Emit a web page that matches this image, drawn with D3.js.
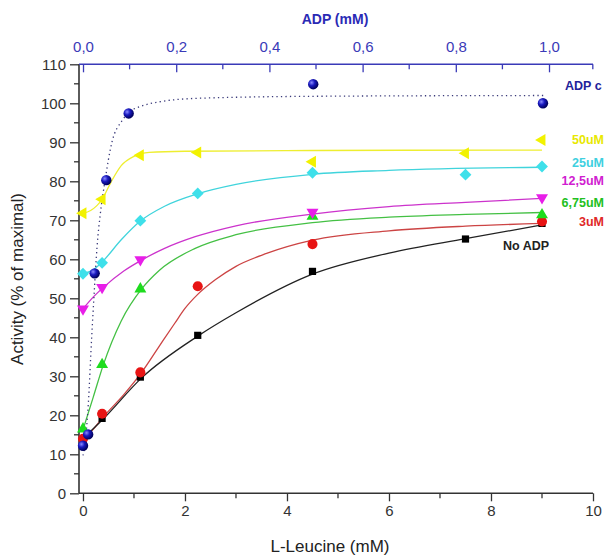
<!DOCTYPE html>
<html><head><meta charset="utf-8">
<script src="https://cdn.jsdelivr.net/npm/d3@7"></script>
<style>body{margin:0;background:#fff}svg{display:block}text{font-family:"Liberation Sans",Arial,sans-serif}</style>
</head><body><svg id="c" width="604" height="559"></svg>
<script>
// ---- data ----
const leucine = [0, 0.375, 1.125, 2.25, 4.5, 7.5, 9];
const noADP   = [13.6, 19.2, 29.8, 40.5, 56.9, 65.2, 69.2];
const adp3    = [14.0, 20.4, 31.0, 53.1, 63.9, null, 69.7];
const adp675  = [16.5, 33.0, 52.4, null, 71.0, null, 71.4];
const adp125  = [47.3, 52.8, 59.9, null, 72.1, null, 75.8];
const adp25   = [56.3, 59.1, 69.9, 76.9, 82.2, 81.7, 83.8];
const adp50   = [71.8, 75.4, 86.7, 87.4, 85.0, 87.2, 90.6];
const adpConc = [0, 0.011, 0.025, 0.05, 0.098, 0.494, 0.987];
const adpAct  = [12.2, 15.1, 56.4, 80.3, 97.4, 104.9, 100.0];
// fitted curves [x, y]
const fitNoADP = [[0,14],[0.4,19.1],[1.15,29.6],[2.25,40.3],[3,46.3],[4.5,56.2],[6,61.6],[7.5,65.3],[9,68.8]];
const fit3     = [[0,13.8],[0.2,16.4],[0.4,19.6],[0.8,25.3],[1.15,31],[1.5,37.8],[1.8,43.6],[2.0,47.4],[2.25,51],[2.6,54.8],[3,58.2],[3.6,61.5],[4.5,64.9],[6,67.3],[7.5,68.5],[9,69.2]];
const fit675   = [[0,16.3],[0.2,24.6],[0.4,33],[0.75,44.2],[1.15,52.4],[1.5,57.2],[2.2,62.8],[3,66.3],[4.5,69.4],[6,70.8],[7.5,71.5],[9,72]];
const fit125   = [[0,47.3],[0.2,50.3],[0.4,52.8],[0.8,57],[1.15,59.8],[1.6,62.8],[2.2,65.8],[3,68.6],[4.5,71.6],[6,73.5],[7.5,74.6],[9,75.6]];
const fit25    = [[0,56.3],[0.2,57.3],[0.375,59.3],[0.75,65],[1.125,69.8],[1.6,73.6],[2.25,76.8],[3,79.2],[4.5,81.8],[6,82.8],[9,83.6]];
const fit50    = [[0,71.8],[0.15,72.5],[0.375,75.4],[0.55,79.8],[0.75,84],[1.0,86.4],[1.3,87.4],[2,87.7],[4.5,87.9],[9,88]];
const fitADP   = [[0,9.7],[0.005,13.5],[0.0114,23],[0.0186,40],[0.0243,52],[0.03,63],[0.037,71.5],[0.047,80],[0.062,90],[0.083,95.4],[0.1,97.8],[0.126,99.3],[0.16,100.3],[0.25,101.3],[0.5,101.8],[0.99,102]];
const bottomTicks = [0, 2, 4, 6, 8, 10];
const topTicks = [0, 0.2, 0.4, 0.6, 0.8, 1.0];
const leftTicks = [0, 10, 20, 30, 40, 50, 60, 70, 80, 90, 100, 110];

const svg = d3.select("#c");
const x = d3.scaleLinear().domain([-0.078, 10]).range([79, 593]);
const xt = d3.scaleLinear().domain([-0.0086, 1.0944]).range([79, 593]);
const y = d3.scaleLinear().domain([0, 110]).range([493.3, 64.3]);

const defs = svg.append("defs");
const g = defs.append("radialGradient").attr("id","sph").attr("cx","35%").attr("cy","35%").attr("r","65%");
g.append("stop").attr("offset","0%").attr("stop-color","#8a8aff");
g.append("stop").attr("offset","45%").attr("stop-color","#1a1ac0");
g.append("stop").attr("offset","100%").attr("stop-color","#00005a");

// axes
const axisCol = "#333";
const bAxis = d3.axisBottom(x).tickValues(bottomTicks).tickFormat(d3.format("d")).tickSize(8).tickPadding(4);
const bg = svg.append("g").attr("transform","translate(0,493.3)").call(bAxis);
bg.select(".domain").attr("d","M79,0H593").attr("stroke",axisCol).attr("stroke-width",1.6);
bg.selectAll(".tick line").attr("stroke",axisCol).attr("stroke-width",1.3);
bg.selectAll("text").attr("fill","#333").attr("font-size",15);
bg.selectAll(".minor").data([1,3,5,7,9]).enter().append("line").attr("class","minor")
  .attr("x1",d=>x(d)).attr("x2",d=>x(d)).attr("y1",0).attr("y2",5).attr("stroke",axisCol).attr("stroke-width",1.3);

const lAxis = d3.axisLeft(y).tickValues(leftTicks).tickFormat(d3.format("d")).tickSize(9).tickPadding(4);
const lg = svg.append("g").attr("transform","translate(79,0)").call(lAxis);
lg.select(".domain").attr("d","M0,493.3V64.3").attr("stroke",axisCol).attr("stroke-width",1.6);
lg.selectAll(".tick line").attr("stroke",axisCol).attr("stroke-width",1.3);
lg.selectAll("text").attr("fill","#333").attr("font-size",15);
lg.selectAll(".minor").data(d3.range(5,110,10)).enter().append("line").attr("class","minor")
  .attr("x1",0).attr("x2",-5).attr("y1",d=>y(d)).attr("y2",d=>y(d)).attr("stroke",axisCol).attr("stroke-width",1.3);

const topCol = "#3a3ab8";
const tAxis = d3.axisTop(xt).tickValues(topTicks).tickFormat(d=>d3.format(".1f")(d).replace(".",",")).tickSize(-8).tickPadding(12);
const tg = svg.append("g").attr("transform","translate(0,64.3)").call(tAxis);
tg.select(".domain").attr("d","M79,0H593").attr("stroke",topCol).attr("stroke-width",1.6);
tg.selectAll(".tick line").attr("stroke",topCol).attr("stroke-width",1.3);
tg.selectAll("text").attr("fill",topCol).attr("font-size",15);
tg.selectAll(".minor").data([0.1,0.3,0.5,0.7,0.9,1.094]).enter().append("line").attr("class","minor")
  .attr("x1",d=>xt(d)).attr("x2",d=>xt(d)).attr("y1",0).attr("y2",5).attr("stroke",topCol).attr("stroke-width",1.3);

// titles
svg.append("text").attr("x",335).attr("y",24).attr("text-anchor","middle").attr("font-size",14).attr("font-weight","bold").attr("fill","#2a2ab5").text("ADP (mM)");
svg.append("text").attr("x",330).attr("y",552).attr("text-anchor","middle").attr("font-size",17).attr("fill","#222").text("L-Leucine (mM)");
svg.append("text").attr("transform","translate(23,279) rotate(-90)").attr("text-anchor","middle").attr("font-size",17).attr("fill","#222").text("Activity (% of maximal)");

// fit lines
const line = d3.line().x(d=>x(d[0])).y(d=>y(d[1])).curve(d3.curveMonotoneX);
const lineT = d3.line().x(d=>xt(d[0])).y(d=>y(d[1])).curve(d3.curveMonotoneX);
const series = [
  {fit:fit50, vals:adp50, line:"#eeee30", fill:"#f2f200", sym:d3.symbolTriangle, rot:-90, size:62, label:"50uM", lc:"#e8e800", ly:144},
  {fit:fit25, vals:adp25, line:"#40d4dc", fill:"#3ee0ea", sym:d3.symbolSquare, rot:45, size:70, label:"25uM", lc:"#3ed0e0", ly:167},
  {fit:fit125, vals:adp125, line:"#cc33cc", fill:"#e81ee8", sym:d3.symbolTriangle, rot:180, size:62, label:"12,5uM", lc:"#d020d0", ly:185},
  {fit:fit675, vals:adp675, line:"#44c044", fill:"#1edc1e", sym:d3.symbolTriangle, rot:0, size:62, label:"6,75uM", lc:"#22c022", ly:207},
  {fit:fit3, vals:adp3, line:"#cc4444", fill:"#e81414", sym:d3.symbolCircle, rot:0, size:80, label:"3uM", lc:"#e02828", ly:226},
  {fit:fitNoADP, vals:noADP, line:"#222", fill:"#000", sym:d3.symbolSquare, rot:0, size:52, label:"No ADP", lc:"#222", ly:250}
];
series.forEach(s=>{
  svg.append("path").attr("d",line(s.fit)).attr("fill","none").attr("stroke",s.line).attr("stroke-width",1.3);
});
svg.append("path").attr("d",lineT(fitADP)).attr("fill","none").attr("stroke","#3a3a7a").attr("stroke-width",1.3).attr("stroke-dasharray","1.3,3.2");

// markers
series.slice().reverse().forEach(s=>{
  const pts = leucine.map((v,i)=>[v,s.vals[i]]).filter(d=>d[1]!==null);
  svg.append("g").selectAll("path").data(pts).enter().append("path")
    .attr("d", d3.symbol().type(s.sym).size(s.size))
    .attr("transform", d=>`translate(${x(d[0])},${y(d[1])}) rotate(${s.rot})`)
    .attr("fill", s.fill);
});
svg.append("g").selectAll("circle").data(adpConc.map((v,i)=>[v,adpAct[i]])).enter().append("circle")
  .attr("cx",d=>xt(d[0])).attr("cy",d=>y(d[1])).attr("r",5.2).attr("fill","url(#sph)");

// labels
series.forEach(s=>{
  svg.append("text").attr("x",s.label==="No ADP"?503:604).attr("y",s.ly)
    .attr("text-anchor",s.label==="No ADP"?"start":"end")
    .attr("font-size",12.5).attr("font-weight","bold").attr("fill",s.lc).text(s.label);
});
svg.append("text").attr("x",565).attr("y",90).attr("font-size",12.5).attr("font-weight","bold").attr("fill","#22229a").text("ADP c");
</script></body></html>
